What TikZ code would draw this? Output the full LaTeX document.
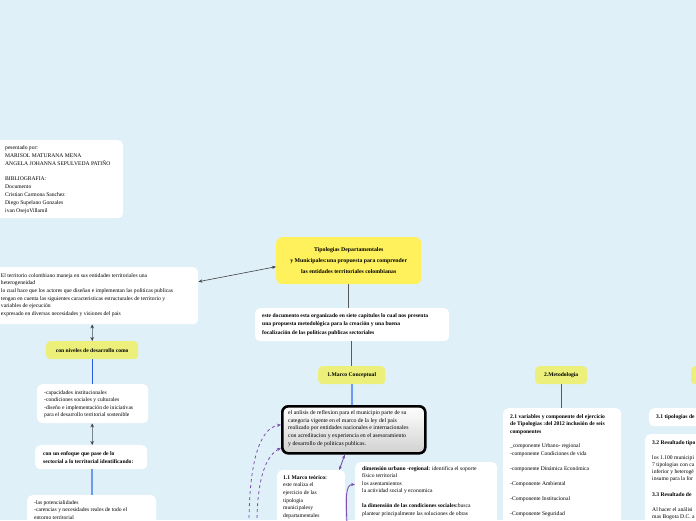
\documentclass[tikz,border=0pt]{standalone}
\usepackage{fontspec}
\setmainfont{Liberation Serif}
\usetikzlibrary{arrows.meta}
\definecolor{bg}{RGB}{223,240,248}
\definecolor{ttl}{RGB}{255,241,92}
\definecolor{ylw}{RGB}{236,240,122}
\definecolor{blu}{RGB}{40,90,230}
\definecolor{lblu}{RGB}{110,155,240}
\definecolor{gry}{RGB}{120,135,145}
\definecolor{prp}{RGB}{125,80,175}
\newcommand\fsz{\fontsize{5.6}{7.6}\selectfont}
\begin{document}
\begin{tikzpicture}[x=1pt,y=-1pt,
  wbox/.style={fill=white, rounded corners=5pt, inner sep=0pt, anchor=north west, draw=none},
  ybox/.style={fill=ylw, rounded corners=4pt, inner sep=0pt, anchor=north west, font=\fsz\bfseries, align=center},
  txt/.style={anchor=north west, inner sep=0pt, align=left, font=\fsz},
  btxt/.style={txt, font=\fsz\bfseries},
  garr/.style={gry, line width=1.4pt, {Stealth[length=4pt,width=3.6pt,color=black!75]}-{Stealth[length=4pt,width=3.6pt,color=black!75]}},
  darr/.style={black!75, line width=0.6pt, {Stealth[length=4pt,width=3.2pt]}-{Stealth[length=4pt,width=3.2pt]}},
  bline/.style={blu, line width=1pt},
  lbline/.style={lblu, line width=1.6pt},
  parr/.style={prp, line width=0.9pt, -{Stealth[length=4pt,width=3.2pt]}},
  pdarr/.style={prp, line width=0.9pt, {Stealth[length=4pt,width=3.2pt]}-{Stealth[length=4pt,width=3.2pt]}},
  pdash/.style={prp, line width=0.8pt, dashed, -{Stealth[length=4pt,width=3.2pt]}}
]
\fill[bg] (0,0) rectangle (696,520);
\useasboundingbox (0,0) rectangle (696,520);

% top-left box
\node[wbox, minimum width=129pt, minimum height=78pt] (tl) at (-6,140) {};
\node[txt, font=\fontsize{5.6}{7.9}\selectfont] (tltx) at (5,145.3) {pesentado por:\\
MARISOL MATURANA MENA\\
ANGELA JOHANNA SEPULVEDA PATIÑO\\[7.9pt]
BIBLIOGRAFIA:\\
Documento\\
Cristian Carmona Sanchez\\
Diego Supelano Gonzales\\
ivan OsejoVillamil};

% left box
\node[wbox, minimum width=204pt, minimum height=57pt] (bx2) at (-6,267) {};
\node[txt] (bx2tx) at (0.8,273.3) {El territorio colombiano maneja en sus entidades territoriales una\\
heterogeneidad\\
lo cual hace que los  actores que diseñan e implementan  las politicas publicas\\
tengan en cuenta las siguientes caracteristicas estructurales  de territorio y\\
variables  de  ejecución\\
expresado en diversas necesidades y visiones del pais};

% title
\node[fill=ttl, rounded corners=6pt, inner sep=0pt, anchor=north west, minimum width=145pt, minimum height=47pt,
  align=center, font=\fontsize{5.8}{11}\selectfont\bfseries] (ttl) at (276,237)
  {Tipologias Departamentales\\y Municipales:una propuesta para comprender\\las entidades territoriales colombianas};

% intro
\node[wbox, minimum width=194pt, minimum height=33pt] (intro) at (255,308) {};
\node[btxt, font=\fontsize{5.6}{8.5}\selectfont\bfseries] (introtx) at (262,313.2) {este documento esta organizado en siete capitulos lo cual nos presenta\\
una propuesta metodológica para la creación y una buena\\
focalización de las politicas publicas sectoriales};

% marco conceptual
\node[ybox, minimum width=67pt, minimum height=18pt] (marco) at (318,366) {1.Marco Conceptual};

% black box
\node[draw=black, line width=2.6pt, rounded corners=6pt, top color=white, bottom color=black!18,
  inner sep=0pt, anchor=north west, minimum width=143pt, minimum height=47pt] (blk) at (281,405) {};
\node[txt, font=\fontsize{5.8}{7.7}\selectfont] (blktx) at (288,410.1) {el anlisis de reflexion para el municipio parte de su\\
categoria vigente en el marco de la ley del pais\\
realizado por entidades nacionales e internacionales\\
con acreditacion y experiencia en el   asesoramiento\\
y desarrollo de politicas publicas.};

% 1.1 marco teorico
\node[wbox, minimum width=68pt, minimum height=60pt] (mt) at (277,470) {};
\node[txt] (mttx) at (283,475.2) {\textbf{1.1 Marco teórico:}\\
este realiza el\\
ejercicio de las\\
tipologia\\
municipalesy\\
departamentales};

% dimension box
\node[wbox, minimum width=142pt, minimum height=63pt] (dim) at (355,462) {};
\node[txt, font=\fontsize{5.6}{7.5}\selectfont] (dimtx) at (362,466.2) {\textbf{dimensión urbano -regional:} identifica el soporte\\
físico territorial\\
los asentamientos\\
la actividad social y economica\\[7.5pt]
\textbf{la dimensión de las condiciones sociales:}busca\\
plantear  principalmente las soluciones de obras};

% left column
\node[ybox, minimum width=92pt, minimum height=18pt] (niv) at (46,341) {con niveles de desarrollo como};
\node[wbox, minimum width=111pt, minimum height=39pt] (cap) at (37,384) {};
\node[txt, font=\fontsize{5.6}{7.5}\selectfont] (captx) at (44,390.2) {-capacidades institucionales\\
-condiciones sociales y  culturales\\
-diseño e implementación de iniciativas\\
para el desarrollo territorial sostenible};
\node[wbox, minimum width=112pt, minimum height=24pt] (enf) at (35,445) {};
\node[btxt, font=\fontsize{5.6}{7.7}\selectfont\bfseries] (enftx) at (43,451.2) {con un enfoque que pase de lo\\
sectorial a lo territorial identificando:};
\node[wbox, minimum width=129pt, minimum height=35pt] (pot) at (27,495) {};
\node[txt, font=\fontsize{5.6}{7.5}\selectfont] (pottx) at (34,500.2) {-las potencialidades\\
-carencias y necesidades reales de  todo el\\
entorno territorial};

% metodologia
\node[ybox, minimum width=52pt, minimum height=18pt] (met) at (535,366) {2.Metodologia};
\node[wbox, minimum width=118pt, minimum height=122pt] (var) at (503,408) {};
\node[txt, font=\fontsize{5.6}{7.5}\selectfont] (vartx) at (510,414.2) {\textbf{2.1 variables y componente del ejercicio}\\
\textbf{de Tipologias :del 2012 inclusión de seis}\\
\textbf{componentes}\\[7pt]
\_componente Urbano- regional\\
-componente Condiciones de vida\\[7.5pt]
-componente Dinámica Económica\\[7.5pt]
-Componente Ambiental\\[7.5pt]
-Componente Institucional\\[7.5pt]
-Componente Seguridad};

% resultados (right edge)
\node[ybox, minimum width=50pt, minimum height=18pt] (res) at (691,366) {};
\node[wbox, minimum width=70pt, minimum height=18pt] (t31) at (649,408) {};
\node[btxt] (t31tx) at (656,414.2) {3.1 tipologias de};
\node[wbox, minimum width=70pt, minimum height=100pt] (t32) at (645,434) {};
\node[txt, font=\fontsize{5.6}{7.3}\selectfont] (t32tx) at (652,440.2) {\textbf{3.2 Resultado tipo}\\[7.5pt]
los 1.100 municipi\\
7 tipologias con ca\\
inferior y heterogé\\
insumo para la for\\[8pt]
\textbf{3.3 Resultado de}\\[7.5pt]
Al hacer el análisi\\
mas Bogota D.C. a};

% connectors
\draw[darr] ([yshift=14pt]bx2.east) -- ([yshift=-6pt]ttl.west);
\draw[black!65, line width=0.8pt] (ttl.south) -- (intro.north -| ttl.south);
\draw[bline] (intro.south -| marco.north) -- (marco.north);
\draw[lbline] (marco.south) -- (blk.north -| marco.south);
\draw[pdarr] ([xshift=-9pt]blk.south) -- ([xshift=28pt]mt.north);
\coordinate (d1) at (249,524);
\coordinate (d2) at (257,524);
\coordinate (p1) at (347,524);
\draw[pdash] (d1) .. controls (249,468) and (258,428) .. ([yshift=5pt]blk.west);
\draw[pdash] (d2) .. controls (257,490) and (262,458) .. ([yshift=-18pt]blk.west);
\draw[parr] (p1) .. controls (346,500) and (345,484) .. ([yshift=9pt]dim.west);
\draw[garr] (bx2.south -| niv.north) -- (niv.north);
\draw[bline] (niv.south) -- (cap.north -| niv.south);
\draw[garr] (cap.south -| niv.south) -- (enf.north -| niv.south);
\draw[lbline] (enf.south -| niv.south) -- (pot.north -| niv.south);
\draw[bline] (met.south) -- (var.north -| met.south);
\end{tikzpicture}
\end{document}
